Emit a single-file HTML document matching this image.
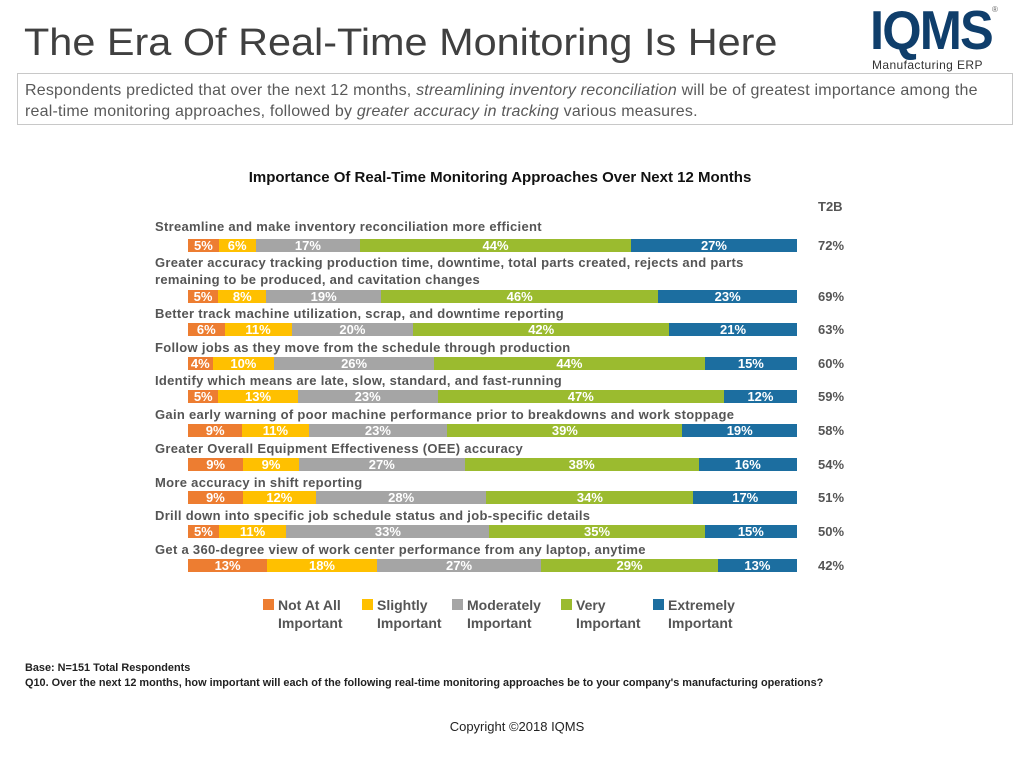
<!DOCTYPE html>
<html><head><meta charset="utf-8"><style>
body{margin:0;width:1024px;height:769px;background:#fff;position:relative;font-family:"Liberation Sans",sans-serif;overflow:hidden}
.a{position:absolute}
.t{left:24px;top:22px;font-size:38px;color:#404040;transform:scaleX(1.09);transform-origin:left;white-space:nowrap}
.box{left:17px;top:73px;width:996px;height:52px;border:1px solid #c8c8c8;box-sizing:border-box}
.sub{left:25px;top:80px;font-size:16px;line-height:21px;color:#595959;letter-spacing:0.2px;white-space:nowrap}
.ct{left:0;width:1000px;text-align:center;top:169px;font-size:15px;font-weight:bold;color:#111}
.lb{left:155px;font-size:13px;font-weight:bold;color:#555;line-height:17px;letter-spacing:0.3px;white-space:nowrap}
.bar{left:188px;width:609px;height:13px;display:flex}
.bar div{color:#fff;font-size:13px;font-weight:bold;text-align:center;line-height:13px;overflow:hidden}
.o{background:#ED7D31}.y{background:#FFC000}.g{background:#A5A5A5}.v{background:#9BBB2F}.b{background:#1C6EA0}
.t2{left:818px;font-size:13px;font-weight:bold;color:#555}
.lg{top:596px;font-size:14px;font-weight:bold;color:#555;line-height:18px}
.sw{display:inline-block;width:11px;height:11px;position:absolute;left:-15px;top:3px}
</style></head><body>
<div class="a t">The Era Of Real-Time Monitoring Is Here</div>
<div class="a" style="left:870px;top:-2px;font-size:55px;font-weight:bold;color:#0F3E6B;letter-spacing:-2px;transform:scaleX(0.92);transform-origin:left">IQMS</div>
<div class="a" style="left:992px;top:5px;font-size:8px;color:#666">®</div>
<div class="a" style="left:872px;top:58px;font-size:12px;color:#333;letter-spacing:0.4px">Manufacturing ERP</div>
<div class="a box"></div>
<div class="a sub">Respondents predicted that over the next 12 months, <i>streamlining inventory reconciliation</i> will be of greatest importance among the<br>real-time monitoring approaches, followed by <i>greater accuracy in tracking</i> various measures.</div>
<div class="a ct">Importance Of Real-Time Monitoring Approaches Over Next 12 Months</div>
<div class="a t2" style="top:199px">T2B</div>

<div class="a lb" style="top:218px">Streamline and make inventory reconciliation more efficient</div>
<div class="a bar" style="top:239px"><div class="o" style="flex:5">5%</div><div class="y" style="flex:6">6%</div><div class="g" style="flex:17">17%</div><div class="v" style="flex:44">44%</div><div class="b" style="flex:27">27%</div></div>
<div class="a t2" style="top:238px">72%</div>

<div class="a lb" style="top:254px">Greater accuracy tracking production time, downtime, total parts created, rejects and parts<br>remaining to be produced, and cavitation changes</div>
<div class="a bar" style="top:290px"><div class="o" style="flex:5">5%</div><div class="y" style="flex:8">8%</div><div class="g" style="flex:19">19%</div><div class="v" style="flex:46">46%</div><div class="b" style="flex:23">23%</div></div>
<div class="a t2" style="top:289px">69%</div>

<div class="a lb" style="top:305px">Better track machine utilization, scrap, and downtime reporting</div>
<div class="a bar" style="top:323px"><div class="o" style="flex:6">6%</div><div class="y" style="flex:11">11%</div><div class="g" style="flex:20">20%</div><div class="v" style="flex:42">42%</div><div class="b" style="flex:21">21%</div></div>
<div class="a t2" style="top:322px">63%</div>

<div class="a lb" style="top:339px">Follow jobs as they move from the schedule through production</div>
<div class="a bar" style="top:357px"><div class="o" style="flex:4">4%</div><div class="y" style="flex:10">10%</div><div class="g" style="flex:26">26%</div><div class="v" style="flex:44">44%</div><div class="b" style="flex:15">15%</div></div>
<div class="a t2" style="top:356px">60%</div>

<div class="a lb" style="top:372px">Identify which means are late, slow, standard, and fast-running</div>
<div class="a bar" style="top:390px"><div class="o" style="flex:5">5%</div><div class="y" style="flex:13">13%</div><div class="g" style="flex:23">23%</div><div class="v" style="flex:47">47%</div><div class="b" style="flex:12">12%</div></div>
<div class="a t2" style="top:389px">59%</div>

<div class="a lb" style="top:406px">Gain early warning of poor machine performance prior to breakdowns and work stoppage</div>
<div class="a bar" style="top:424px"><div class="o" style="flex:9">9%</div><div class="y" style="flex:11">11%</div><div class="g" style="flex:23">23%</div><div class="v" style="flex:39">39%</div><div class="b" style="flex:19">19%</div></div>
<div class="a t2" style="top:423px">58%</div>

<div class="a lb" style="top:440px">Greater Overall Equipment Effectiveness (OEE) accuracy</div>
<div class="a bar" style="top:458px"><div class="o" style="flex:9">9%</div><div class="y" style="flex:9">9%</div><div class="g" style="flex:27">27%</div><div class="v" style="flex:38">38%</div><div class="b" style="flex:16">16%</div></div>
<div class="a t2" style="top:457px">54%</div>

<div class="a lb" style="top:474px">More accuracy in shift reporting</div>
<div class="a bar" style="top:491px"><div class="o" style="flex:9">9%</div><div class="y" style="flex:12">12%</div><div class="g" style="flex:28">28%</div><div class="v" style="flex:34">34%</div><div class="b" style="flex:17">17%</div></div>
<div class="a t2" style="top:490px">51%</div>

<div class="a lb" style="top:507px">Drill down into specific job schedule status and job-specific details</div>
<div class="a bar" style="top:525px"><div class="o" style="flex:5">5%</div><div class="y" style="flex:11">11%</div><div class="g" style="flex:33">33%</div><div class="v" style="flex:35">35%</div><div class="b" style="flex:15">15%</div></div>
<div class="a t2" style="top:524px">50%</div>

<div class="a lb" style="top:541px">Get a 360-degree view of work center performance from any laptop, anytime</div>
<div class="a bar" style="top:559px"><div class="o" style="flex:13">13%</div><div class="y" style="flex:18">18%</div><div class="g" style="flex:27">27%</div><div class="v" style="flex:29">29%</div><div class="b" style="flex:13">13%</div></div>
<div class="a t2" style="top:558px">42%</div>

<div class="a lg" style="left:278px"><span class="sw o"></span>Not At All<br>Important</div>
<div class="a lg" style="left:377px"><span class="sw y"></span>Slightly<br>Important</div>
<div class="a lg" style="left:467px"><span class="sw g"></span>Moderately<br>Important</div>
<div class="a lg" style="left:576px"><span class="sw v"></span>Very<br>Important</div>
<div class="a lg" style="left:668px"><span class="sw b"></span>Extremely<br>Important</div>

<div class="a" style="left:25px;top:661px;font-size:11px;color:#222;line-height:15px;font-weight:bold;white-space:nowrap;transform:scaleX(0.99);transform-origin:left">Base: N=151 Total Respondents<br>Q10. Over the next 12 months, how important will each of the following real-time monitoring approaches be to your company's manufacturing operations?</div>
<div class="a" style="left:0;width:1034px;text-align:center;top:719px;font-size:13px;color:#222">Copyright ©2018 IQMS</div>
</body></html>
